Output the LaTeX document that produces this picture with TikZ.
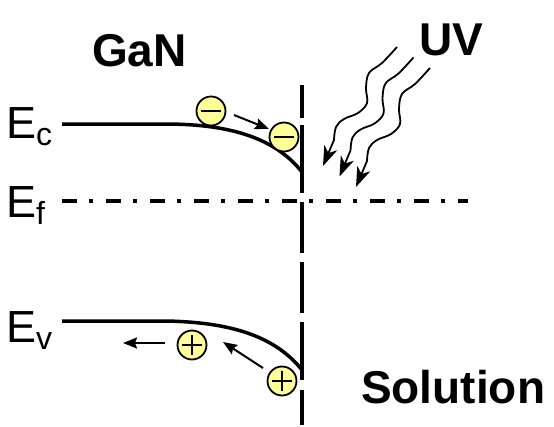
\documentclass[tikz,border=0pt]{standalone}
\usepackage{fontspec}
\setmainfont{Liberation Sans}
\usetikzlibrary{arrows.meta,calc}
\definecolor{pale}{HTML}{FFFF99}
\begin{document}
\begin{tikzpicture}[x=1pt,y=-1pt,
  band/.style={line width=3.5pt},
  carrier/.style={circle, draw=black, line width=1.8pt, fill=pale, minimum size=29pt, inner sep=0pt},
  minus/.style={carrier, path picture={\draw[line width=2.2pt] ([xshift=-10pt]path picture bounding box.center) -- ([xshift=10pt]path picture bounding box.center);}},
  plus/.style={carrier, path picture={\draw[line width=2.2pt] ([xshift=-10pt]path picture bounding box.center) -- ([xshift=10pt]path picture bounding box.center) ([yshift=-10pt]path picture bounding box.center) -- ([yshift=10pt]path picture bounding box.center);}},
  move/.style={line width=2pt, -{Stealth[length=14pt,width=11pt,inset=2pt]}},
  ray/.style={line width=1.8pt, -{Stealth[length=20pt,width=14pt,inset=6pt]}},
  big/.style={font=\fontsize{46}{46}\selectfont\bfseries, inner sep=0pt, anchor=base west},
  lev/.style={inner sep=0pt, anchor=base west, font=\fontsize{45}{45}\selectfont}
]
\useasboundingbox (0,0) rectangle (554,426);

% labels
\node[big] (gan) at (92,66) {GaN};
\node[big] (uv) at (419,55) {UV};
\node[big] (sol) at (361,403) {Solution};
\node[lev] (ec) at (6,138) {E\raisebox{-7pt}{\fontsize{32}{32}\selectfont c}};
\node[lev] (ef) at (6,217) {E\raisebox{-7pt}{\fontsize{32}{32}\selectfont f}};
\node[lev] (ev) at (6,342) {E\raisebox{-7pt}{\fontsize{32}{32}\selectfont v}};

% Fermi level
\draw[line width=3.5pt, dash pattern=on 15pt off 12pt on 4pt off 13pt] (62,201) -- (468,201);

% interface
\draw[line width=4.5pt, dash pattern=on 33pt off 7pt on 68pt off 9pt on 51pt off 9pt on 51pt off 9pt on 58pt off 10pt on 40pt] (302,85) -- (302,425);

% bands
\draw[band] (62,124) -- (165,124) .. controls (230,124) and (275,138) .. (302,172);
\draw[band] (62,321) -- (165,321) .. controls (230,322) and (275,336) .. (302,370);

% carriers
\node[minus] (e1) at (211,111) {};
\node[minus] (e2) at (284,137) {};
\node[plus] (h1) at (192,345) {};
\node[plus] (h2) at (282,381) {};

\draw[move] ($(e1)+(23,4)$) -- ($(e2)+(-15,-8)$);
\draw[move] ($(h2)+(-19,-13)$) -- ($(h1)+(31,-3)$);
\coordinate (hl) at (123,343);
\draw[move] ($(h1)+(-27,-2)$) -- (hl);

% UV rays
\foreach \i in {0,1,2}{
  \draw[ray, shift={(16.5*\i,10.5*\i)}] plot[smooth, tension=0.6] coordinates {(397,47) (382,63) (369,73) (366,88) (367,103) (358,113) (344,119) (336,127) (334,140)} -- (323,166);
}
\end{tikzpicture}
\end{document}
